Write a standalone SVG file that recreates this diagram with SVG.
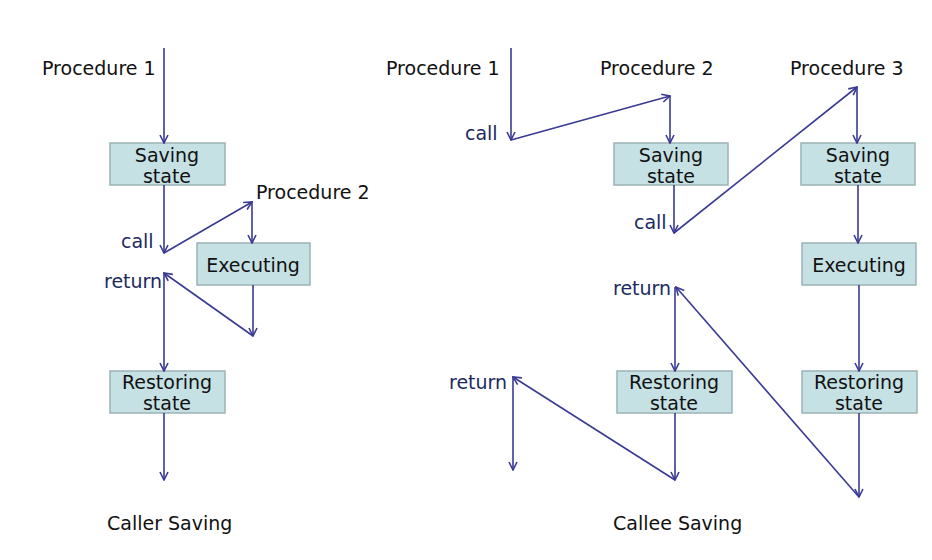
<svg xmlns="http://www.w3.org/2000/svg" width="932" height="560" viewBox="0 0 932 560">
<defs>
<marker id="ah" viewBox="0 0 10 10" refX="9" refY="5" markerWidth="10" markerHeight="10" markerUnits="userSpaceOnUse" orient="auto">
<path d="M1,1 L9,5 L1,9" fill="none" stroke="#3a3a95" stroke-width="1.6"/>
</marker>
<style>
.box{fill:#c6e1e4;stroke:#9cb3b6;stroke-width:1.5}
.t{font-family:"DejaVu Sans",Verdana,sans-serif;font-size:19px;fill:#111}
.c{text-anchor:middle}
.lb{font-family:"DejaVu Sans",Verdana,sans-serif;font-size:19px;fill:#1c2a62}
.ln{fill:none;stroke:#3a3a95;stroke-width:1.6;marker-end:url(#ah)}
</style>
</defs>
<rect width="932" height="560" fill="#fff"/>

<g id="labels">
<text class="t" x="42" y="75">Procedure 1</text>
<text class="t" x="256" y="199">Procedure 2</text>
<text class="lb" x="121" y="248">call</text>
<text class="lb" x="104" y="288">return</text>
<text class="t" x="107" y="530">Caller Saving</text>
<text class="t" x="386" y="75">Procedure 1</text>
<text class="t" x="600" y="75">Procedure 2</text>
<text class="t" x="790" y="75">Procedure 3</text>
<text class="lb" x="465" y="140">call</text>
<text class="lb" x="634" y="229">call</text>
<text class="lb" x="613" y="295">return</text>
<text class="lb" x="449" y="389">return</text>
<text class="t" x="613" y="530">Callee Saving</text>
</g>

<g id="l-saving">
<rect class="box" x="110" y="143" width="115" height="42"/>
<text class="t c" x="167" y="162">Saving</text>
<text class="t c" x="167" y="183">state</text>
</g>
<g id="l-executing">
<rect class="box" x="197" y="243" width="113" height="42"/>
<text class="t c" x="253" y="272">Executing</text>
</g>
<g id="l-restoring">
<rect class="box" x="110" y="371" width="115" height="42"/>
<text class="t c" x="167" y="389">Restoring</text>
<text class="t c" x="167" y="410">state</text>
</g>

<g id="r-saving2">
<rect class="box" x="614" y="143" width="114" height="42"/>
<text class="t c" x="671" y="162">Saving</text>
<text class="t c" x="671" y="183">state</text>
</g>
<g id="r-saving3">
<rect class="box" x="801" y="143" width="114" height="42"/>
<text class="t c" x="858" y="162">Saving</text>
<text class="t c" x="858" y="183">state</text>
</g>
<g id="r-executing3">
<rect class="box" x="802" y="243" width="114" height="42"/>
<text class="t c" x="859" y="272">Executing</text>
</g>
<g id="r-restoring2">
<rect class="box" x="617" y="371" width="115" height="42"/>
<text class="t c" x="674" y="389">Restoring</text>
<text class="t c" x="674" y="410">state</text>
</g>
<g id="r-restoring3">
<rect class="box" x="802" y="371" width="115" height="42"/>
<text class="t c" x="859" y="389">Restoring</text>
<text class="t c" x="859" y="410">state</text>
</g>

<g id="connectors">
<path class="ln" d="M164,48 L164,143"/>
<path class="ln" d="M164,185 L164,253"/>
<path class="ln" d="M164,253 L252,202"/>
<path class="ln" d="M252,202 L252,243"/>
<path class="ln" d="M253,285 L253,336"/>
<path class="ln" d="M253,336 L164,273"/>
<path class="ln" d="M164,273 L164,371"/>
<path class="ln" d="M164,413 L164,480"/>

<path class="ln" d="M511,48 L511,140"/>
<path class="ln" d="M511,140 L670,96"/>
<path class="ln" d="M670,96 L670,143"/>
<path class="ln" d="M674,185 L674,233"/>
<path class="ln" d="M674,233 L857,87"/>
<path class="ln" d="M857,87 L857,143"/>
<path class="ln" d="M858,185 L858,243"/>
<path class="ln" d="M859,285 L859,371"/>
<path class="ln" d="M859,413 L859,497"/>
<path class="ln" d="M859,497 L676,287"/>
<path class="ln" d="M675,287 L675,371"/>
<path class="ln" d="M675,413 L675,480"/>
<path class="ln" d="M675,480 L513,377"/>
<path class="ln" d="M513,377 L513,470"/>
</g>
</svg>
